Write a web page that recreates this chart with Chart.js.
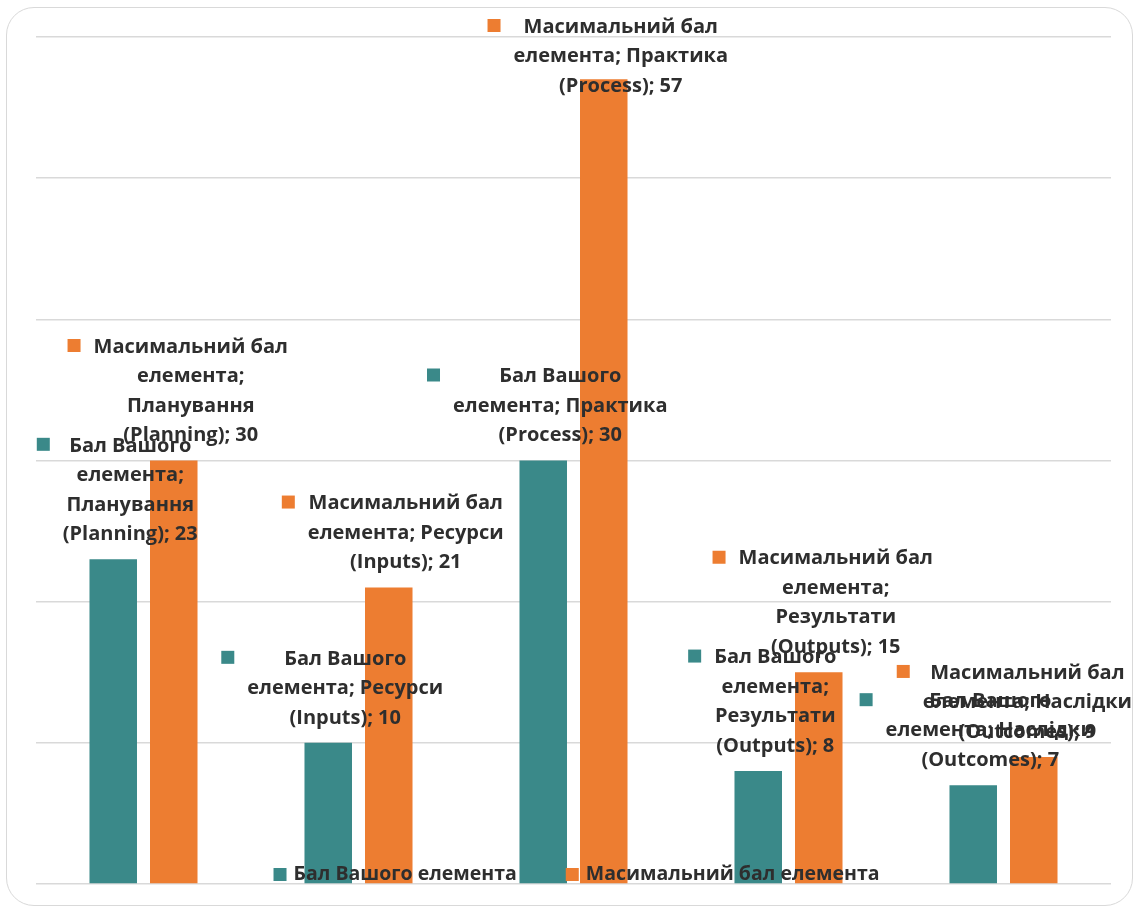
<!DOCTYPE html>
<html>
<head>
<meta charset="utf-8">
<script src="https://cdn.jsdelivr.net/npm/chart.js@4.4.1/dist/chart.umd.min.js"></script>
<style>
  html, body { margin: 0; padding: 0; background: #ffffff; }
  #wrap { position: relative; width: 1134px; height: 908px; overflow: hidden; }
  #frame { position: absolute; left: 6px; top: 7px; width: 1127px; height: 899px;
           border: 1.5px solid #d9d9d9; border-radius: 28px; box-sizing: border-box; }
  canvas { position: absolute; left: 0; top: 0; }
</style>
</head>
<body>
<div id="wrap">
  <div id="frame"></div>
  <canvas id="c" width="1134" height="908"></canvas>
</div>
<script>
// ---- data ----
const categories = ["Планування (Planning)", "Ресурси (Inputs)", "Практика (Process)", "Результати (Outputs)", "Наслідки (Outcomes)"];
const seriesNames = ["Бал Вашого елемента", "Масимальний бал елемента"];
const yourScore = [23, 10, 30, 8, 7];
const maxScore = [30, 21, 57, 15, 9];
const yTicks = [0, 10, 20, 30, 40, 50, 60];

const colors = ["#3a8989", "#ed7d31"];
const textColor = "#2e2e2e";
const labelFont = "bold 20px 'Open Sans', 'DejaVu Sans', sans-serif";
const legendFont = "bold 19.5px 'Open Sans', 'DejaVu Sans', sans-serif";

function wrapText(ctx, text, maxW) {
  const words = text.split(' ');
  const lines = [];
  let cur = '';
  for (const w of words) {
    const test = cur ? cur + ' ' + w : w;
    if (cur && ctx.measureText(test).width > maxW) { lines.push(cur); cur = w; }
    else cur = test;
  }
  if (cur) lines.push(cur);
  return lines;
}

const calloutPlugin = {
  id: 'callouts',
  afterDatasetsDraw(chart) {
    const ctx = chart.ctx;
    const lineH = 29.5;
    const keySize = 13;
    ctx.save();
    ctx.font = labelFont;
    ctx.textBaseline = 'middle';
    ctx.textAlign = 'center';
    chart.data.datasets.forEach((ds, di) => {
      const meta = chart.getDatasetMeta(di);
      meta.data.forEach((bar, i) => {
        const text = ds.label + '; ' + chart.data.labels[i] + '; ' + ds.data[i];
        const lines = wrapText(ctx, text, 218);
        const maxW = Math.max(...lines.map(l => ctx.measureText(l).width));
        let cx = bar.x + 17;
        let firstY = bar.y - 25 - (lines.length - 1) * lineH;
        if (firstY < 27) firstY = 27;
        if (cx + maxW / 2 > chart.width - 2) cx = chart.width - 2 - maxW / 2;
        ctx.fillStyle = ds.backgroundColor;
        ctx.fillRect(cx - maxW / 2 - 26, firstY - 8, keySize, keySize);
        ctx.fillStyle = textColor;
        lines.forEach((l, k) => ctx.fillText(l, cx, firstY + k * lineH));
      });
    });
    // legend
    ctx.font = legendFont;
    ctx.textAlign = 'left';
    const items = chart.data.datasets.map(d => ({ label: d.label, color: d.backgroundColor, w: ctx.measureText(d.label).width }));
    const gapKey = 7, gapItem = 49;
    let total = 0;
    items.forEach((it, k) => { total += keySize + gapKey + it.w + (k < items.length - 1 ? gapItem : 0); });
    const area = chart.chartArea;
    let x = (area.left + area.right) / 2 - total / 2 + 3;
    const y = 874;
    items.forEach(it => {
      ctx.fillStyle = it.color;
      ctx.fillRect(x, y - 6, keySize, keySize);
      x += keySize + gapKey;
      ctx.fillStyle = textColor;
      ctx.fillText(it.label, x, y);
      x += it.w + gapItem;
    });
    ctx.restore();
  }
};

new Chart(document.getElementById('c'), {
  type: 'bar',
  data: {
    labels: categories,
    datasets: [
      { label: seriesNames[0], data: yourScore, backgroundColor: colors[0] },
      { label: seriesNames[1], data: maxScore, backgroundColor: colors[1] }
    ]
  },
  options: {
    responsive: false,
    animation: false,
    devicePixelRatio: 1,
    layout: { padding: { left: 36, right: 23, top: 37, bottom: 16 } },
    datasets: { bar: { categoryPercentage: 0.563, barPercentage: 0.785 } },
    plugins: { legend: { display: false }, tooltip: { enabled: false } },
    scales: {
      x: { grid: { display: false }, ticks: { display: false }, border: { display: false } },
      y: {
        min: yTicks[0], max: yTicks[yTicks.length - 1],
        afterBuildTicks(axis) { axis.ticks = yTicks.map(v => ({ value: v })); },
        ticks: { display: false },
        grid: { color: '#d9d9d9', lineWidth: 1.5, drawTicks: false },
        border: { display: false }
      }
    }
  },
  plugins: [calloutPlugin]
});
</script>
</body>
</html>
